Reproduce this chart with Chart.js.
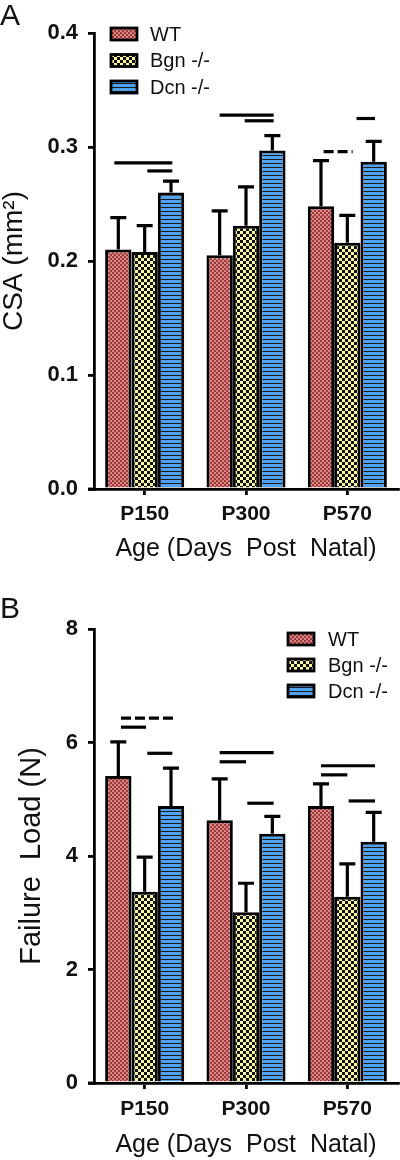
<!DOCTYPE html>
<html>
<head>
<meta charset="utf-8">
<script src="https://cdn.jsdelivr.net/npm/chart.js@4.4.1/dist/chart.umd.min.js"></script>
<style>
  body { margin: 0; background: #fff; width: 400px; height: 1160px; overflow: hidden; font-family: "Liberation Sans", Arial, sans-serif; }
  .panel { position: absolute; left: 0; width: 400px; height: 580px; }
  .lbl { position: absolute; left: 0; font-size: 30px; line-height: 30px; color: #111; z-index: 2; }
</style>
</head>
<body>
<div class="panel" style="top:0"><canvas id="chartCSA"></canvas></div>
<div class="panel" style="top:580px"><canvas id="chartLoad"></canvas></div>
<div class="lbl" style="top:0">A</div>
<div class="lbl" style="top:593px">B</div>
<script>
// ==========================
// DATA
// ==========================
const ages = ["P150", "P300", "P570"];
const groups = ["WT", "Bgn -/-", "Dcn -/-"];

// panel A - cross sectional area (mm2), mean and SD
const csaWT = [0.210, 0.205, 0.248];
const csaBgn = [0.208, 0.231, 0.216];
const csaDcn = [0.260, 0.297, 0.287];
const csaWTsd = [0.028, 0.039, 0.040];
const csaBgnSd = [0.023, 0.034, 0.024];
const csaDcnSd = [0.010, 0.013, 0.018];
const csaTicks = [0, 0.1, 0.2, 0.3, 0.4];

// panel B - failure load (N), mean and SD
const loadWT = [5.41, 4.63, 4.88];
const loadBgn = [3.37, 3.01, 3.28];
const loadDcn = [4.88, 4.39, 4.25];
const loadWTsd = [0.60, 0.73, 0.39];
const loadBgnSd = [0.61, 0.51, 0.58];
const loadDcnSd = [0.67, 0.31, 0.52];
const loadTicks = [0, 2, 4, 6, 8];

// significance lines: [age index, from bar, to bar, value, dashed]
const csaSig = [
  [0, -0.15, 2.05, 0.286, false],
  [0, 1.1, 2.05, 0.279, false],
  [1, 0, 2.05, 0.328, false],
  [1, 0.95, 2.05, 0.323, false],
  [2, 0.1, 1.2, 0.296, true],
  [2, 1.35, 2.05, 0.325, false]
];
const loadSig = [
  [0, 0.1, 2.2, 6.43, true],
  [0, 0.1, 1.05, 6.27, false],
  [0, 1.1, 2.05, 5.81, false],
  [1, 0, 2.05, 5.82, false],
  [1, 0, 1.0, 5.66, false],
  [1, 1.05, 2.05, 4.93, false],
  [2, 0, 2.05, 5.59, false],
  [2, 0, 1.0, 5.43, false],
  [2, 1.05, 2.05, 4.97, false]
];

// ==========================
// PATTERNS
// ==========================
function makePattern(size, draw) {
  const c = document.createElement("canvas");
  c.width = size;
  c.height = size;
  const g = c.getContext("2d");
  draw(g, size);
  return g.createPattern(c, "repeat");
}

const patWT = makePattern(4, (g) => {
  g.fillStyle = "#db8584";
  g.fillRect(0, 0, 4, 4);
  g.fillStyle = "#9c3b3c";
  g.fillRect(0, 0, 2, 2);
  g.fillRect(2, 2, 2, 2);
});
const patBgn = makePattern(6, (g) => {
  g.fillStyle = "#f7f7a6";
  g.fillRect(0, 0, 6, 6);
  g.fillStyle = "#111";
  g.fillRect(0, 0, 3, 3);
  g.fillRect(3, 3, 3, 3);
});
const patDcn = makePattern(4, (g) => {
  g.fillStyle = "#4ea2ee";
  g.fillRect(0, 0, 4, 4);
  g.fillStyle = "#1a1a1a";
  g.fillRect(0, 3, 4, 1);
});

// ==========================
// ERROR BARS, SIGNIFICANCE LINES, LEGEND
// ==========================
const extrasPlugin = {
  id: "extras",
  afterDatasetsDraw(chart, args, opts) {
    const ctx = chart.ctx;
    const y = chart.scales.y;
    const area = chart.chartArea;
    ctx.save();
    ctx.strokeStyle = "#000";
    ctx.lineWidth = 3.2;
    ctx.lineCap = "butt";

    // error bars (upper only)
    chart.data.datasets.forEach((ds, d) => {
      chart.getDatasetMeta(d).data.forEach((bar, i) => {
        const top = y.getPixelForValue(ds.data[i] + ds.sd[i]);
        ctx.beginPath();
        ctx.moveTo(bar.x, bar.y);
        ctx.lineTo(bar.x, top);
        ctx.moveTo(bar.x - 8, top);
        ctx.lineTo(bar.x + 8, top);
        ctx.stroke();
      });
    });

    // significance lines
    opts.sig.forEach(([cat, from, to, val, dashed]) => {
      const x0 = chart.getDatasetMeta(0).data[cat].x;
      const step = chart.getDatasetMeta(1).data[cat].x - x0;
      const py = y.getPixelForValue(val);
      ctx.setLineDash(dashed ? [10, 4] : []);
      ctx.beginPath();
      ctx.moveTo(x0 + from * step, py);
      ctx.lineTo(x0 + to * step, py);
      ctx.stroke();
    });
    ctx.setLineDash([]);

    // small overhang of the x axis to the left
    ctx.lineWidth = 2.8;
    ctx.beginPath();
    ctx.moveTo(area.left - 6, area.bottom);
    ctx.lineTo(area.left, area.bottom);
    ctx.stroke();

    // legend
    const lg = opts.legend;
    ctx.font = "20px 'Liberation Sans', Arial, sans-serif";
    ctx.textBaseline = "middle";
    ctx.textAlign = "left";
    chart.data.datasets.forEach((ds, d) => {
      const cy = lg.y + d * lg.gap;
      ctx.fillStyle = ds.backgroundColor;
      ctx.fillRect(lg.x, cy - 6, 26, 12);
      ctx.lineWidth = 2.8;
      ctx.strokeRect(lg.x, cy - 6, 26, 12);
      ctx.fillStyle = "#111";
      ctx.fillText(ds.label, lg.x + lg.textGap, cy + 1);
    });
    ctx.restore();
  }
};

Chart.defaults.font.family = "'Liberation Sans', Arial, sans-serif";
Chart.defaults.color = "#111";

function barChart(id, series, sds, ticks, fmt, yTitle, layout) {
  return new Chart(document.getElementById(id), {
    type: "bar",
    data: {
      labels: ages,
      datasets: groups.map((g, i) => ({
        label: g,
        data: series[i],
        sd: sds[i],
        backgroundColor: [patWT, patBgn, patDcn][i],
        borderColor: "#000",
        borderWidth: 3,
        categoryPercentage: 0.78,
        barPercentage: 1
      }))
    },
    options: {
      responsive: true,
      maintainAspectRatio: false,
      animation: false,
      layout: { padding: { top: layout.top, right: 2, left: 0, bottom: 0 } },
      scales: {
        x: {
          afterFit: (s) => { s.height = layout.xHeight; },
          ticks: { font: { size: 21, weight: "bold" }, color: "#111", padding: layout.tickPad },
          grid: { offset: false, drawOnChartArea: false, tickLength: 6, lineWidth: 2.8, color: "#000" },
          border: { color: "#000", width: 2.8 },
          title: {
            display: true,
            text: "Age (Days  Post  Natal)",
            font: { size: 25 },
            color: "#111",
            padding: { top: 0, bottom: layout.xTitlePad }
          }
        },
        y: {
          min: ticks[0],
          max: ticks[ticks.length - 1],
          afterBuildTicks: (s) => { s.ticks = ticks.map((v) => ({ value: v })); },
          afterFit: (s) => { s.width = 94; },
          ticks: { font: { size: 22, weight: "bold" }, color: "#111", padding: 10, callback: fmt },
          grid: { drawOnChartArea: false, tickLength: 6, lineWidth: 2.8, color: "#000" },
          border: { color: "#000", width: 2.8 },
          title: {
            display: true,
            text: yTitle,
            font: { size: layout.yTitleSize, lineHeight: 1 },
            color: "#111",
            padding: { top: layout.yTitlePad, bottom: 0 }
          }
        }
      },
      plugins: {
        legend: { display: false },
        tooltip: { enabled: false },
        extras: { sig: layout.sig, legend: layout.legend }
      }
    },
    plugins: [extrasPlugin]
  });
}

barChart("chartCSA",
  [csaWT, csaBgn, csaDcn],
  [csaWTsd, csaBgnSd, csaDcnSd],
  csaTicks,
  (v) => Number(v).toFixed(1),
  "CSA (mm²)",
  { top: 33, xHeight: 91, tickPad: 7, xTitlePad: 16, yTitleSize: 28, yTitlePad: 0,
    sig: csaSig, legend: { x: 111, y: 34, gap: 26.5, textGap: 39 } });

barChart("chartLoad",
  [loadWT, loadBgn, loadDcn],
  [loadWTsd, loadBgnSd, loadDcnSd],
  loadTicks,
  (v) => String(v),
  "Failure  Load (N)",
  { top: 49, xHeight: 77, tickPad: 8, xTitlePad: 0, yTitleSize: 29, yTitlePad: 17.5,
    sig: loadSig, legend: { x: 288, y: 59, gap: 26, textGap: 40 } });
</script>
</body>
</html>
